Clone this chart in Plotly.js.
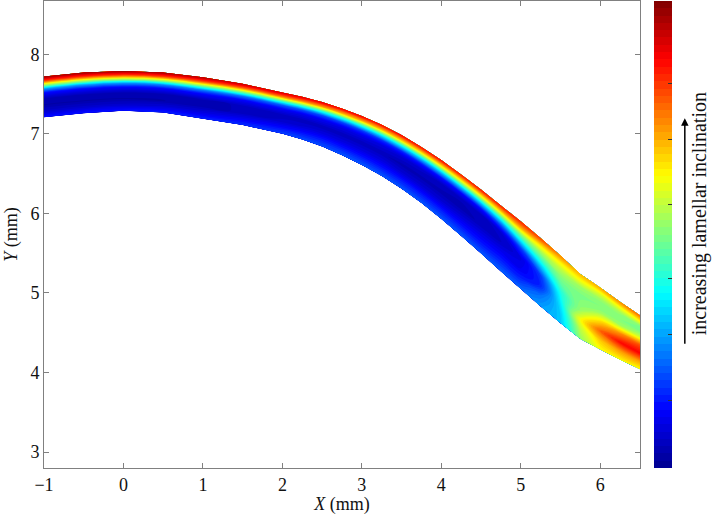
<!DOCTYPE html>
<html>
<head>
<meta charset="utf-8">
<script src="https://cdn.plot.ly/plotly-3.0.1.min.js"></script>
<style>html,body{margin:0;padding:0;background:#fff;}#chart{width:712px;height:515px;}</style>
</head>
<body>
<div id="chart"></div>
<script>
// Position along the band (X, mm)
const xs = [-1, -0.5, 0, 0.5, 1, 1.5, 2, 2.25, 2.5, 2.75, 3, 3.25, 3.5, 3.75, 4, 4.25, 4.5, 4.75, 5, 5.25, 5.5, 5.75, 6, 6.25, 6.5];
// Upper and lower edges of the band (Y, mm)
const topY = [7.72, 7.77, 7.79, 7.77, 7.71, 7.63, 7.52, 7.465, 7.40, 7.32, 7.225, 7.115, 6.985, 6.835, 6.67, 6.49, 6.30, 6.10, 5.90, 5.69, 5.47, 5.24, 5.07, 4.89, 4.72];
const botY = [7.21, 7.26, 7.29, 7.27, 7.19, 7.11, 7.00, 6.93, 6.84, 6.73, 6.61, 6.47, 6.31, 6.13, 5.93, 5.715, 5.495, 5.27, 5.05, 4.83, 4.62, 4.42, 4.29, 4.16, 4.04];
// Fraction across the band (0 = lower edge, 1 = upper edge)
const bFrac = [0, 0.15, 0.3, 0.45, 0.6, 0.7, 0.8, 0.9, 1];
// Relative lamellar inclination, one profile per X position (lower -> upper edge)
const inclination = [
  [0.14, 0.07, 0.03, 0.04, 0.13, 0.28, 0.55, 0.82, 0.98],
  [0.14, 0.07, 0.03, 0.04, 0.13, 0.28, 0.55, 0.82, 0.98],
  [0.14, 0.07, 0.03, 0.04, 0.13, 0.28, 0.55, 0.82, 0.98],
  [0.15, 0.08, 0.03, 0.04, 0.13, 0.27, 0.54, 0.81, 0.97],
  [0.16, 0.09, 0.04, 0.04, 0.13, 0.26, 0.52, 0.80, 0.96],
  [0.17, 0.11, 0.05, 0.05, 0.12, 0.24, 0.50, 0.78, 0.95],
  [0.19, 0.13, 0.07, 0.05, 0.12, 0.22, 0.47, 0.76, 0.93],
  [0.20, 0.14, 0.08, 0.05, 0.11, 0.21, 0.45, 0.75, 0.92],
  [0.20, 0.15, 0.09, 0.05, 0.11, 0.20, 0.43, 0.73, 0.91],
  [0.21, 0.15, 0.09, 0.05, 0.10, 0.19, 0.41, 0.71, 0.90],
  [0.21, 0.15, 0.09, 0.05, 0.10, 0.18, 0.40, 0.70, 0.90],
  [0.21, 0.15, 0.09, 0.05, 0.09, 0.17, 0.38, 0.68, 0.89],
  [0.21, 0.15, 0.08, 0.04, 0.08, 0.16, 0.37, 0.67, 0.89],
  [0.21, 0.15, 0.08, 0.04, 0.07, 0.15, 0.35, 0.65, 0.88],
  [0.21, 0.15, 0.08, 0.04, 0.06, 0.14, 0.34, 0.64, 0.88],
  [0.21, 0.15, 0.09, 0.04, 0.05, 0.13, 0.34, 0.63, 0.87],
  [0.21, 0.15, 0.10, 0.05, 0.05, 0.14, 0.35, 0.63, 0.87],
  [0.22, 0.16, 0.11, 0.06, 0.08, 0.20, 0.40, 0.65, 0.86],
  [0.23, 0.16, 0.11, 0.09, 0.18, 0.34, 0.50, 0.70, 0.85],
  [0.28, 0.24, 0.16, 0.18, 0.33, 0.44, 0.54, 0.66, 0.82],
  [0.32, 0.33, 0.36, 0.40, 0.47, 0.51, 0.56, 0.64, 0.75],
  [0.52, 0.56, 0.62, 0.52, 0.50, 0.50, 0.53, 0.62, 0.70],
  [0.62, 0.68, 0.78, 0.66, 0.52, 0.50, 0.52, 0.60, 0.72],
  [0.63, 0.72, 0.87, 0.74, 0.53, 0.50, 0.52, 0.62, 0.75],
  [0.62, 0.72, 0.88, 0.80, 0.58, 0.50, 0.50, 0.64, 0.78]
];
const cbarTicks = [0.145, 0.286, 0.406, 0.565, 0.704, 0.824];
const labelText = 'increasing lamellar inclination';

// carpet grid [b][a]
const gx = bFrac.map(() => xs.slice());
const gy = bFrac.map(f => xs.map((_, i) => botY[i] + f * (topY[i] - botY[i])));
const gz = bFrac.map((_, j) => xs.map((_, i) => inclination[i][j]));

const jet = [
  [0, 'rgb(0,0,143)'], [0.125, 'rgb(0,0,255)'], [0.375, 'rgb(0,255,255)'],
  [0.625, 'rgb(255,255,0)'], [0.875, 'rgb(255,0,0)'], [1, 'rgb(128,0,0)']
];

const hiddenAxis = {showgrid:false, showline:false, showticklabels:'none', startline:false, endline:false,
  minorgridcount:0, gridwidth:0, linewidth:0, tickmode:'array', tickvals:[], smoothing:0};

const traces = [
  {type:'carpet', carpet:'band', a: xs, b: bFrac, x: gx, y: gy,
   aaxis: hiddenAxis, baxis: hiddenAxis, hoverinfo:'skip'},
  {type:'contourcarpet', carpet:'band', a: xs, b: bFrac, z: gz,
   autocontour:false, contours:{coloring:'fill', showlines:false, start:0, end:1, size:1/64},
   line:{width:0}, colorscale: jet, zmin:0, zmax:1,
   colorbar:{x:1.0235, xanchor:'left', xpad:0, ypad:0, thickness:18, thicknessmode:'pixels',
     len:1, lenmode:'fraction', y:0.5, yanchor:'middle', outlinewidth:0,
     tickmode:'array', tickvals:cbarTicks, ticks:'inside', ticklen:4, tickcolor:'#333',
     showticklabels:false}}
];

const fam = 'Liberation Serif, Times New Roman, serif';
const font = {family:fam, size:18, color:'#111'};
const layout = {
  width:712, height:515,
  margin:{l:44, r:72, t:1, b:47},
  paper_bgcolor:'#fff', plot_bgcolor:'#fff',
  font: font,
  showlegend:false,
  xaxis:{range:[-1, 6.5], tickmode:'linear', tick0:-1, dtick:1, ticks:'inside', ticklen:5,
    tickcolor:'#808080', showline:true, linecolor:'#808080', linewidth:1, mirror:'ticks',
    showgrid:false, zeroline:false, title:{text:'<i>X</i> (mm)', standoff:4, font:font}, tickfont:font},
  yaxis:{range:[2.8, 8.67], tickmode:'linear', tick0:3, dtick:1, ticks:'inside', ticklen:5,
    tickcolor:'#808080', showline:true, linecolor:'#808080', linewidth:1, mirror:'ticks',
    showgrid:false, zeroline:false, title:{text:'<i>Y</i> (mm)', standoff:8, font:font}, tickfont:font},
  annotations:[
    {xref:'paper', yref:'paper', x:1.1012, y:0.544, text:labelText, textangle:-90, showarrow:false,
     font:{family:fam, size:20, color:'#111'}, xanchor:'center', yanchor:'middle'},
    {xref:'paper', yref:'paper', x:1.0752, y:0.749, ax:0, ay:227, text:'', showarrow:true,
     arrowhead:2, arrowsize:1, arrowwidth:1.5, arrowcolor:'#000'}
  ]
};

Plotly.newPlot('chart', traces, layout, {displayModeBar:false, staticPlot:true});
</script>
</body>
</html>
